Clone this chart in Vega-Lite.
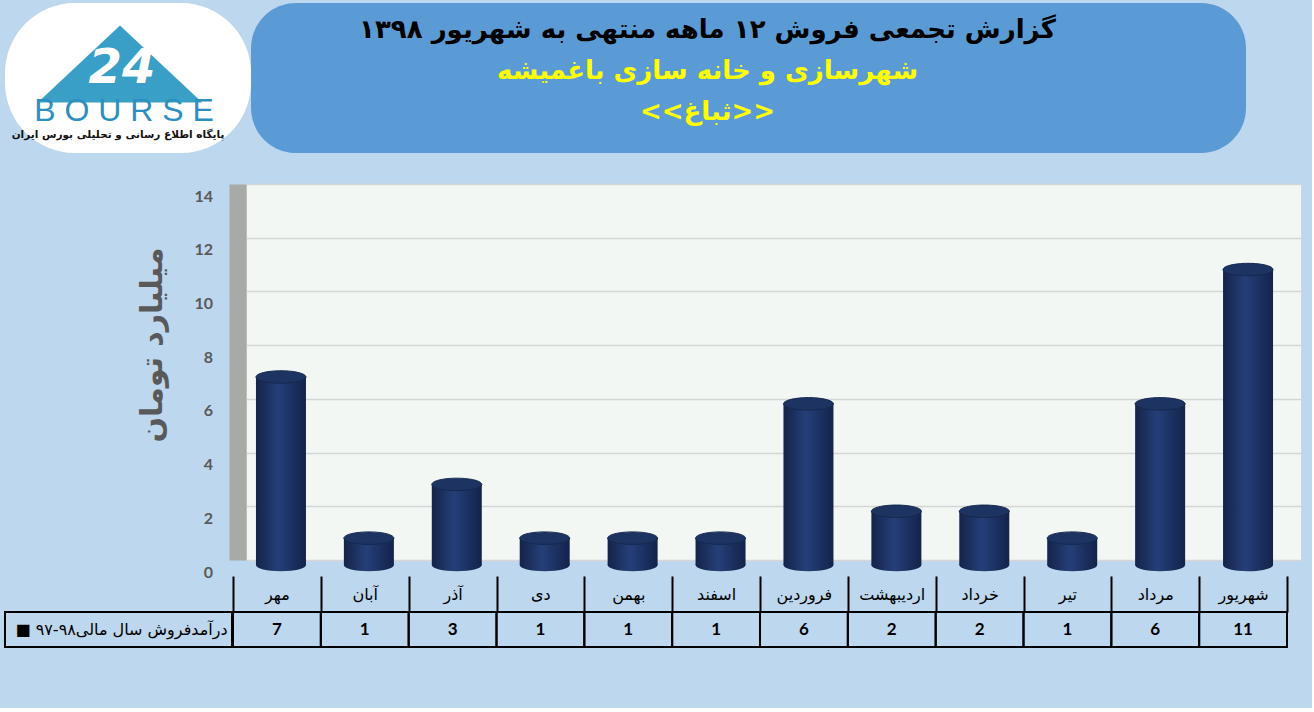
{
  "$schema": "https://vega.github.io/schema/vega-lite/v6.json",
  "background": "#BDD7EE",
  "padding": {"left": 4, "top": 3, "right": 10, "bottom": 60},
  "config": {
    "font": "DejaVu Sans",
    "view": {"stroke": null},
    "axis": {"labelLimit": 0, "labelOverlap": false}
  },
  "datasets": {
    "sales": [
      {"month": "مهر", "value": 7},
      {"month": "آبان", "value": 1},
      {"month": "آذر", "value": 3},
      {"month": "دی", "value": 1},
      {"month": "بهمن", "value": 1},
      {"month": "اسفند", "value": 1},
      {"month": "فروردین", "value": 6},
      {"month": "اردیبهشت", "value": 2},
      {"month": "خرداد", "value": 2},
      {"month": "تیر", "value": 1},
      {"month": "مرداد", "value": 6},
      {"month": "شهریور", "value": 11}
    ],
    "series": [
      {"series": "■ درآمدفروش سال مالی۹۸-۹۷"}
    ],
    "heading": [
      {"line": 1, "text": "گزارش تجمعی فروش ۱۲ ماهه منتهی به شهریور ۱۳۹۸"},
      {"line": 2, "text": "شهرسازی و خانه سازی باغمیشه"},
      {"line": 3, "text": "<<ثباغ>>"}
    ],
    "logo": [
      {"emblem": "24", "name": "B O U R S E", "caption": "پایگاه اطلاع رسانی و تحلیلی بورس ایران"}
    ],
    "unit": [
      {"unit": "میلیارد تومان"}
    ]
  },
  "vconcat": [
    {
      "hconcat": [
        {
          "width": 246,
          "height": 150,
          "view": {"fill": "#FFFFFF", "cornerRadius": 70, "stroke": null},
          "data": {"name": "logo"},
          "layer": [
            {
              "mark": {"type": "point", "shape": "M0,-0.47L1,0.47L-1,0.47Z", "size": 27000, "filled": true, "fill": "#3A9FC6", "opacity": 1, "strokeWidth": 0, "xOffset": -8, "yOffset": -14},
              "encoding": {}
            },
            {
              "mark": {"type": "text", "fontSize": 48, "fontWeight": "bold", "fontStyle": "italic", "color": "#FFFFFF", "xOffset": -6, "yOffset": -9},
              "encoding": {"text": {"field": "emblem"}}
            },
            {
              "mark": {"type": "text", "fontSize": 32, "font": "Liberation Sans", "color": "#2C8FBE", "xOffset": -4, "yOffset": 33},
              "encoding": {"text": {"field": "name"}}
            },
            {
              "mark": {"type": "text", "fontSize": 10.5, "fontWeight": "bold", "color": "#111111", "xOffset": -10, "yOffset": 57},
              "encoding": {"text": {"field": "caption"}}
            }
          ]
        },
        {
          "width": 995,
          "height": 150,
          "view": {"fill": "#5B9BD5", "cornerRadius": 45, "stroke": null},
          "data": {"name": "heading"},
          "mark": {"type": "text", "fontSize": 26, "fontWeight": "bold", "dx": -41},
          "encoding": {
            "y": {"field": "line", "type": "ordinal", "axis": null, "scale": {"type": "point", "padding": 0.83, "align": 0.4}},
            "text": {"field": "text"},
            "color": {"field": "line", "type": "ordinal", "legend": null, "scale": {"domain": [1, 2, 3], "range": ["#000000", "#FFFF00", "#FFFF00"]}}
          }
        }
      ],
      "spacing": 0
    },
    {
      "vconcat": [
        {
          "hconcat": [
            {
              "width": 170,
              "height": 376,
              "data": {"name": "unit"},
              "mark": {"type": "text", "fontSize": 30, "fontWeight": "bold", "color": "#595959", "angle": 270, "xOffset": 63, "yOffset": -27},
              "encoding": {"text": {"field": "unit"}}
            },
            {
              "width": 1055,
              "height": 376,
              "view": {"fill": "#F2F7F3", "stroke": "#D4D4D4", "strokeWidth": 1},
              "data": {"name": "sales"},
              "encoding": {
                "x": {"field": "month", "type": "nominal", "sort": null, "axis": null, "scale": {"paddingInner": 0, "paddingOuter": 0}},
                "y": {
                  "field": "value",
                  "type": "quantitative",
                  "scale": {"domain": [0, 14], "nice": false},
                  "axis": {
                    "values": [0, 2, 4, 6, 8, 10, 12, 14],
                    "offset": 8.5,
                    "domainWidth": 17,
                    "domainColor": "#A8AAA5",
                    "ticks": false,
                    "labelOffset": 12,
                    "labelPadding": 25,
                    "labelFont": "Lato",
                    "labelFontSize": 16,
                    "labelFontWeight": "bold",
                    "labelColor": "#595959",
                    "gridColor": "#D6D6D6",
                    "gridWidth": 1.5,
                    "minExtent": 61.5,
                    "title": null
                  }
                }
              },
              "layer": [
                {
                  "mark": {
                    "type": "point",
                    "shape": "M-1,0A1,0.25,0,1,1,1,0A1,0.25,0,1,1,-1,0Z",
                    "size": 2500,
                    "filled": true,
                    "opacity": 1,
                    "strokeWidth": 0,
                    "xOffset": -9,
                    "yOffset": 5,
                    "fill": {"gradient": "linear", "x1": 0, "y1": 0, "x2": 1, "y2": 0, "stops": [{"offset": 0, "color": "#14244A"}, {"offset": 0.45, "color": "#253F78"}, {"offset": 1, "color": "#13234A"}]}
                  },
                  "encoding": {"y": {"datum": 0}}
                },
                {
                  "mark": {
                    "type": "bar",
                    "width": 50,
                    "xOffset": -9,
                    "yOffset": 5,
                    "fill": {"gradient": "linear", "x1": 0, "y1": 0, "x2": 1, "y2": 0, "stops": [{"offset": 0, "color": "#14244A"}, {"offset": 0.45, "color": "#253F78"}, {"offset": 1, "color": "#13234A"}]}
                  }
                },
                {
                  "mark": {
                    "type": "point",
                    "shape": "M-1,0A1,0.25,0,1,1,1,0A1,0.25,0,1,1,-1,0Z",
                    "size": 2500,
                    "filled": true,
                    "opacity": 1,
                    "fill": "#1D3361",
                    "stroke": "#15284E",
                    "strokeWidth": 1,
                    "xOffset": -9,
                    "yOffset": 5
                  }
                }
              ]
            }
          ],
          "spacing": 0
        },
        {
          "hconcat": [
            {
              "width": 227,
              "height": 35,
              "view": {"stroke": "#000000", "strokeWidth": 2},
              "data": {"name": "series"},
              "mark": {"type": "text", "fontSize": 16, "color": "#000000", "xOffset": 3},
              "encoding": {"text": {"field": "series"}}
            },
            {
              "width": 1054,
              "height": 35,
              "data": {"name": "sales"},
              "encoding": {
                "x": {
                  "field": "month",
                  "type": "nominal",
                  "sort": null,
                  "scale": {"paddingInner": 0, "paddingOuter": 0},
                  "axis": {
                    "orient": "top",
                    "domain": false,
                    "ticks": true,
                    "tickBand": "extent",
                    "tickSize": 36,
                    "tickColor": "#000000",
                    "tickWidth": 2,
                    "labelAngle": 0,
                    "labelPadding": -26,
                    "labelFontSize": 16,
                    "labelColor": "#000000",
                    "title": null
                  }
                }
              },
              "layer": [
                {"mark": {"type": "rect", "fill": "transparent", "stroke": "#000000", "strokeWidth": 2}},
                {
                  "mark": {"type": "text", "font": "Lato", "fontSize": 17, "fontWeight": "bold", "color": "#000000"},
                  "encoding": {"text": {"field": "value", "type": "quantitative"}}
                }
              ]
            }
          ],
          "spacing": -2
        }
      ],
      "spacing": -6
    }
  ],
  "spacing": 30
}
